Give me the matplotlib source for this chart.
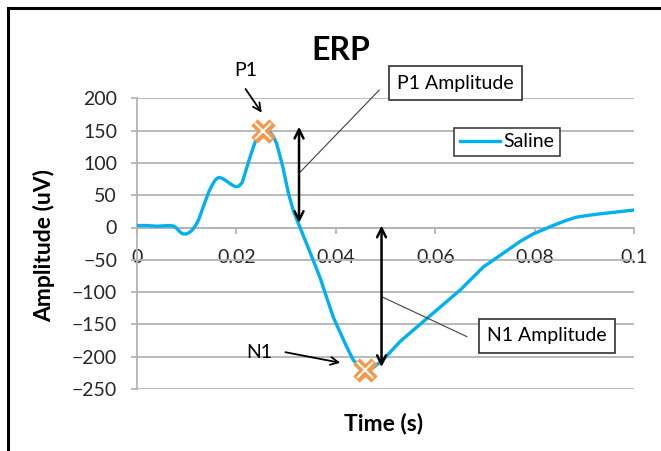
import matplotlib
matplotlib.use("Agg")
import matplotlib.pyplot as plt
from matplotlib.lines import Line2D
from matplotlib.patches import FancyArrowPatch

# ERP trace (Saline)
time_s = [0, 0.002, 0.004, 0.0066, 0.0075, 0.0082, 0.0088, 0.0093, 0.0099, 0.0105,
          0.0111, 0.0117, 0.0124, 0.013, 0.0138, 0.0145, 0.0152, 0.0158, 0.0163, 0.0168,
          0.0174, 0.018, 0.0187, 0.0193, 0.0199, 0.0205, 0.0212, 0.0221, 0.023, 0.0241,
          0.0248, 0.0254, 0.0262, 0.0268, 0.0275, 0.0281, 0.0293, 0.0305, 0.0315, 0.0328,
          0.0348, 0.0368, 0.0395, 0.0422, 0.0435, 0.0448, 0.0459, 0.047, 0.048, 0.0496,
          0.053, 0.0583, 0.065, 0.0697, 0.0744, 0.077, 0.0797, 0.0837, 0.086, 0.0884,
          0.091, 0.093, 0.0965, 0.1]
amp_uv = [3, 3, 2, 3, 2, -3, -8, -10, -10, -8,
          -4, 2, 12, 25, 42, 56, 67, 74, 77, 77,
          75, 72, 68, 65, 63, 64, 70, 93, 115, 140,
          147, 150, 150, 147, 140, 130, 95, 52, 25, 0,
          -38, -77, -139, -185, -205, -215, -222, -220, -214, -204,
          -176, -141, -97, -61, -36, -22, -10, 3, 10, 16,
          19, 21, 24, 27]

peak_names = ["P1", "N1"]
peak_t = [0.0254, 0.0459]
peak_amp = [150, -221]

# double arrows showing the amplitudes: (time, top, bottom)
p1_arrow = (0.0326, 156, 7)
n1_arrow = (0.0492, 3, -216)

x_ticks = [0, 0.02, 0.04, 0.06, 0.08, 0.1]
x_ticklabels = ["0", "0.02", "0.04", "0.06", "0.08", "0.1"]
y_ticks = [-250, -200, -150, -100, -50, 0, 50, 100, 150, 200]

W, H = 661, 451


def px(x, y):
    # pixel position (from top-left) -> figure fraction
    return (x / W, 1 - y / H)


plt.rcParams["font.family"] = ["Lato", "DejaVu Sans"]

fig = plt.figure(figsize=(W / 100, H / 100), dpi=100)
ax = fig.add_axes([137 / W, 1 - 389 / H, 497 / W, 290.7 / H])

grid_c = "#b4b4b4"
text_c = "#262626"

ax.plot(time_s, amp_uv, color="#00b0f0", lw=2.4, label="Saline", zorder=3)

# orange X markers at the peaks (thick orange cross, thin white core)
ax.plot(peak_t, peak_amp, ls="none", marker="x", ms=13.5, mew=6.5,
        color="#f79646", zorder=4)
ax.plot(peak_t, peak_amp, ls="none", marker="x", ms=11.5, mew=1.5,
        color="white", zorder=4)

ax.set_xlim(0, 0.1)
ax.set_ylim(-250, 200)
ax.set_xticks(x_ticks)
ax.set_xticklabels(x_ticklabels)
ax.set_yticks(y_ticks)

ax.grid(axis="y", color=grid_c, lw=1.3)
ax.set_axisbelow(True)
for s in ["top", "right"]:
    ax.spines[s].set_visible(False)
ax.spines["left"].set_color(grid_c)
ax.spines["left"].set_linewidth(1.3)
ax.spines["bottom"].set_position(("data", 0))
ax.spines["bottom"].set_color(grid_c)
ax.spines["bottom"].set_linewidth(1.3)

ax.tick_params(axis="y", length=4.3, width=1.3, color=grid_c, pad=10,
               labelsize=14, labelcolor=text_c)
ax.tick_params(axis="x", length=4.3, width=1.3, color=grid_c, pad=11,
               labelsize=14, labelcolor=text_c)

ax.set_ylabel("Amplitude (uV)", fontsize=16.5, fontweight="bold", color="black")
ax.yaxis.set_label_coords(-0.165, 0.495)
ax.set_xlabel("Time (s)", fontsize=16.5, fontweight="bold", color="black")
ax.xaxis.set_label_coords(0.496, -0.083)

fig.text(*px(340.6, 50), "ERP", fontsize=23, fontweight="bold",
         ha="center", va="center")

# amplitude arrows
for t, top, bot in [p1_arrow, n1_arrow]:
    ax.annotate("", xy=(t, top), xytext=(t, bot),
                arrowprops=dict(arrowstyle="<->", lw=1.8, color="black",
                                mutation_scale=16, shrinkA=0, shrinkB=0),
                zorder=5)

# callout boxes and their leader lines
box = dict(boxstyle="square,pad=0.42", fc="white", ec="#303030", lw=1.2)
fig.text(*px(455.3, 83), "P1 Amplitude", fontsize=14, ha="center", va="center",
         bbox=box)
fig.text(*px(547, 336), "N1 Amplitude", fontsize=14, ha="center", va="center",
         bbox=box)
ax.annotate("", xy=(p1_arrow[0], 84), xytext=px(379.3, 90),
            textcoords="figure fraction",
            arrowprops=dict(arrowstyle="-", lw=0.8, color="#404040",
                            shrinkA=0, shrinkB=0))
ax.annotate("", xy=(n1_arrow[0], -107), xytext=px(467, 336.7),
            textcoords="figure fraction",
            arrowprops=dict(arrowstyle="-", lw=0.8, color="#404040",
                            shrinkA=0, shrinkB=0))

# peak name labels with arrows
fig.text(*px(246, 70), peak_names[0], fontsize=14, ha="center", va="center")
fig.text(*px(259, 352), peak_names[1], fontsize=14, ha="center", va="center")
fig.add_artist(FancyArrowPatch(px(244, 86.7), px(263.3, 115),
                               transform=fig.transFigure, arrowstyle="->",
                               mutation_scale=14, lw=1.3, color="black"))
fig.add_artist(FancyArrowPatch(px(282.7, 351.7), px(343, 363.3),
                               transform=fig.transFigure, arrowstyle="->",
                               mutation_scale=14, lw=1.3, color="black"))

leg = ax.legend(loc="center", bbox_to_anchor=px(506.9, 141.9),
                bbox_transform=fig.transFigure, fontsize=14, frameon=True,
                fancybox=False, handlelength=2.1, handletextpad=0.15,
                borderpad=0.3, borderaxespad=0)
leg.get_frame().set_edgecolor("#404040")
leg.get_frame().set_linewidth(1.2)
leg.get_frame().set_alpha(1)

# outer border (left and top edges only show)
fig.add_artist(Line2D([8 / W, 8 / W], [0, 1 - 8 / H], color="black", lw=2.2))
fig.add_artist(Line2D([8 / W, 1], [1 - 8 / H, 1 - 8 / H], color="black", lw=2.2))

fig.savefig("out.png", dpi=100)
